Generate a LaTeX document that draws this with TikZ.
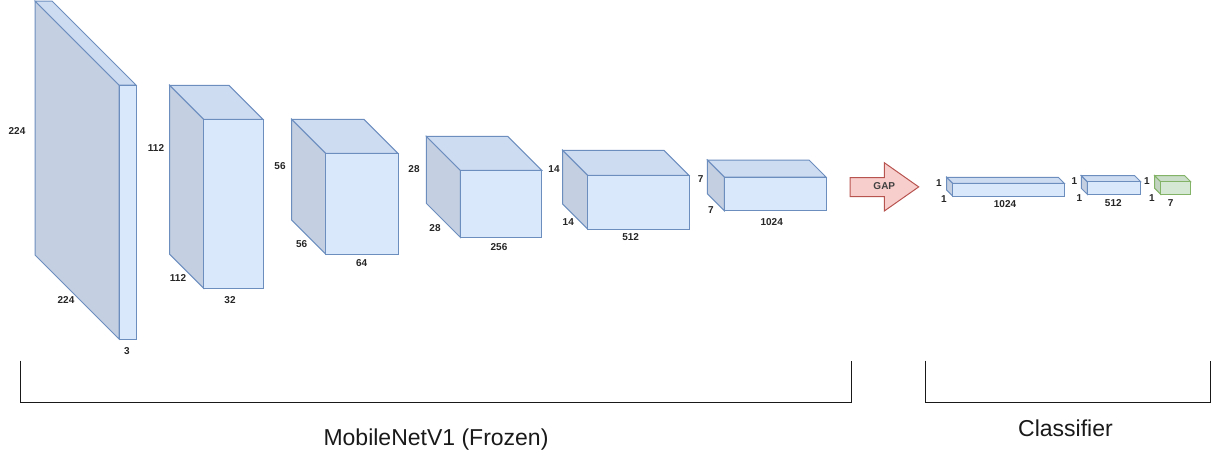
\documentclass[tikz,border=0pt]{standalone}
\usepackage{fontspec}
\setmainfont{Liberation Sans}

\definecolor{blueFront}{HTML}{DAE8FC}
\definecolor{blueSide}{HTML}{C4CFE1}
\definecolor{blueTop}{HTML}{CEDCF1}
\definecolor{blueLine}{HTML}{6C8EBF}
\definecolor{greenFront}{HTML}{D5E8D4}
\definecolor{greenSide}{HTML}{C2D3C1}
\definecolor{greenTop}{HTML}{CADDC9}
\definecolor{greenLine}{HTML}{82B366}
\definecolor{gapFill}{HTML}{F8CECC}
\definecolor{gapLine}{HTML}{B85450}

% feature map box: name, front top-left x, y, width, height, depth, colour set
\newcommand{\featmap}[7]{
  \coordinate (#1) at (#2,#3);
  \filldraw[fill=#7Side,draw=#7Line,line width=1pt] (#1) ++(-#6,-#6) -- (#1) -- ++(0,#5) -- ++(-#6,-#6) -- cycle;
  \filldraw[fill=#7Top,draw=#7Line,line width=1pt] (#1) ++(-#6,-#6) -- ++(#4,0) -- ++(#6,#6) -- (#1) -- cycle;
  \filldraw[fill=#7Front,draw=#7Line,line width=1pt] (#1) rectangle ++(#4,#5);
}

\tikzset{
  dimlabel/.style={font=\fontsize{10}{12}\selectfont\bfseries,text=black!85,inner sep=0pt},
  grouptitle/.style={font=\fontsize{23}{27}\selectfont,text=black!90,anchor=base,inner sep=0pt},
  bracket/.style={line width=1.5pt,black!90}
}

\begin{document}
\begin{tikzpicture}[x=1pt,y=-1pt]
\useasboundingbox (0,0) rectangle (1211,456);

% backbone
\featmap{in}{119}{85}{17}{254}{84}{blue}
\featmap{c1}{203.7}{119.3}{59.3}{169}{34}{blue}
\featmap{c2}{325.7}{153.3}{72.3}{100.7}{34}{blue}
\featmap{c3}{460.3}{170.3}{81.4}{67}{34}{blue}
\featmap{c4}{587.7}{175.3}{101.3}{53.7}{25}{blue}
\featmap{c5}{724.3}{177}{101.7}{33.7}{17}{blue}

\node[dimlabel] (inh) at (17,131) {224};
\node[dimlabel] (inw) at (66,300) {224};
\node[dimlabel] (ind) at (127,351) {3};
\node[dimlabel] (c1h) at (156,148) {112};
\node[dimlabel] (c1w) at (178,278) {112};
\node[dimlabel] (c1d) at (230,300) {32};
\node[dimlabel] (c2h) at (280,166) {56};
\node[dimlabel] (c2w) at (301.7,244) {56};
\node[dimlabel] (c2d) at (361.7,262.7) {64};
\node[dimlabel] (c3h) at (414,169.3) {28};
\node[dimlabel] (c3w) at (435,227.7) {28};
\node[dimlabel] (c3d) at (499,246.7) {256};
\node[dimlabel] (c4h) at (554,169.3) {14};
\node[dimlabel] (c4w) at (568.3,221.7) {14};
\node[dimlabel] (c4d) at (630.7,236.7) {512};
\node[dimlabel] (c5h) at (700.7,179) {7};
\node[dimlabel] (c5w) at (711,210) {7};
\node[dimlabel] (c5d) at (771.7,222.3) {1024};

% pooling arrow
\filldraw[fill=gapFill,draw=gapLine,line width=1pt] (850,177.7) -- (884.3,177.7) -- (884.3,162.7)
  -- (918.7,186.9) -- (884.3,211) -- (884.3,196.7) -- (850,196.7) -- cycle;
\node[dimlabel,text=black!75] (gap) at (884.3,186.5) {GAP};

% classifier head
\featmap{fc1}{952.7}{183.3}{111.6}{12.7}{6}{blue}
\featmap{fc2}{1087.3}{181.7}{53.4}{12.6}{6}{blue}
\featmap{out}{1160.7}{181.7}{30}{12.6}{6}{green}

\node[dimlabel] (fc1h) at (939,183.3) {1};
\node[dimlabel] (fc1w) at (944,199.3) {1};
\node[dimlabel] (fc1d) at (1005,204.3) {1024};
\node[dimlabel] (fc2h) at (1074.3,181.3) {1};
\node[dimlabel] (fc2w) at (1079.3,197.7) {1};
\node[dimlabel] (fc2d) at (1113.3,202.7) {512};
\node[dimlabel] (outh) at (1147,181.3) {1};
\node[dimlabel] (outw) at (1152,197.7) {1};
\node[dimlabel] (outd) at (1170.7,202.7) {7};

% group brackets
\draw[bracket] (20.3,360.7) |- (851.7,402.3) -- (851.7,360.7);
\draw[bracket] (925.7,360.7) |- (1210.3,402.3) -- (1210.3,360.7);
\node[grouptitle] (frozen) at (436,445) {MobileNetV1 (Frozen)};
\node[grouptitle] (head) at (1065.5,436.7) {Classifier};

\end{tikzpicture}
\end{document}
